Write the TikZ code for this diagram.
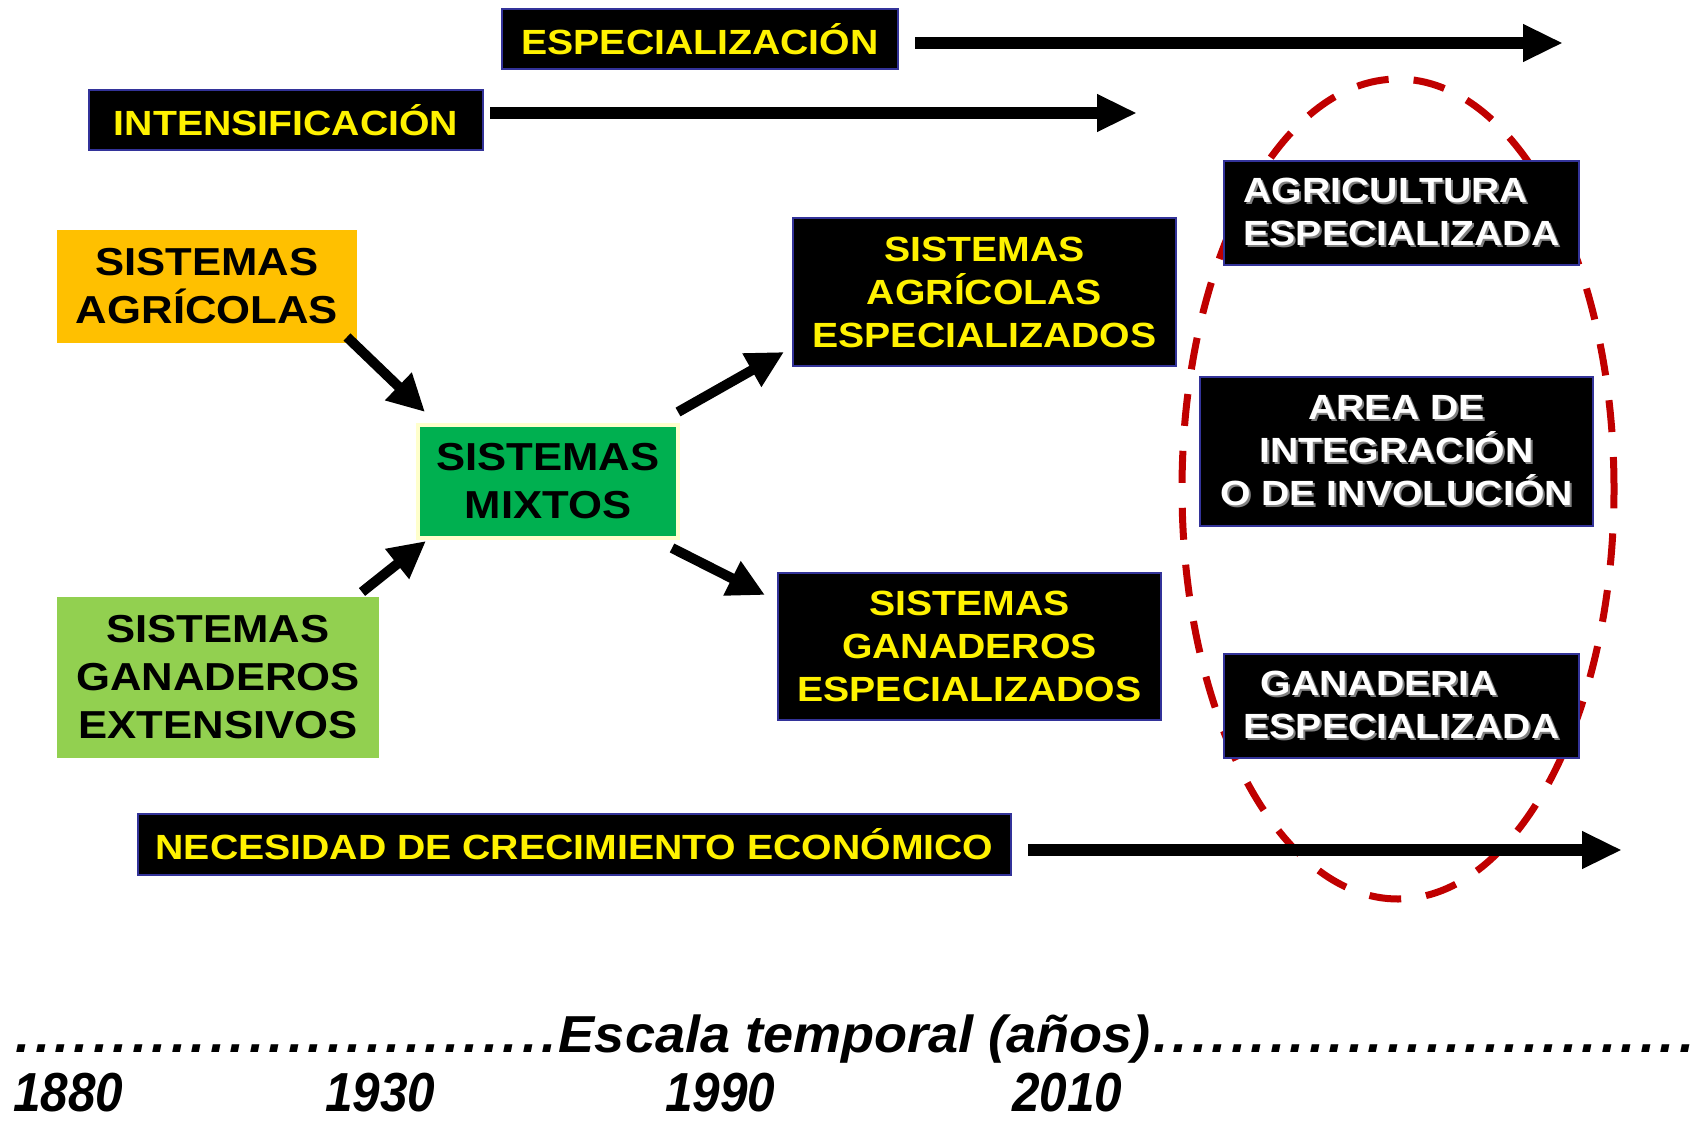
\documentclass[tikz,border=0pt]{standalone}
\usepackage{fontspec}
\usetikzlibrary{positioning,arrows.meta}
\newfontfamily\boxfont{Liberation Sans}[FakeStretch=1.12]
\newfontfamily\timefont{Liberation Sans}[FakeStretch=1.04]
\newfontfamily\yearfont{Liberation Sans}[FakeStretch=0.9]
\definecolor{boxOrange}{HTML}{FFC000}
\definecolor{boxGreen}{HTML}{00B050}
\definecolor{boxLime}{HTML}{92D050}
\definecolor{paleYellow}{HTML}{FFFFCC}
\definecolor{frameBlue}{HTML}{333399}
\definecolor{dashRed}{HTML}{C00000}
\colorlet{labelYellow}{yellow}
\colorlet{shadowGray}{gray}
\newcommand{\embossed}[1]{\leavevmode\rlap{\kern2pt\raisebox{-2pt}{\color{shadowGray}#1}}#1}
\newcommand{\dotrun}{\xleaders\hbox to 19.2pt{\hss.\hss}\hfill}
\tikzstyle{plainBox}=[inner sep=0pt,outer sep=0pt,align=center,font=\boxfont\bfseries\fontsize{39}{48}\selectfont]
\tikzstyle{darkBox}=[plainBox,fill=black,draw=frameBlue,line width=2pt,text=labelYellow,font=\boxfont\bfseries\fontsize{35}{43}\selectfont]
\tikzstyle{whiteBox}=[darkBox,text=white]
\tikzstyle{bigArrow}=[line width=12pt,-{Triangle[length=40pt,width=35pt]}]
\tikzstyle{shortArrow}=[line width=10pt,-{Triangle[length=37pt,width=36pt]}]
\tikzstyle{yearLabel}=[inner sep=0pt,anchor=base west,font=\yearfont\bfseries\itshape\fontsize{55}{60}\selectfont]

\begin{document}
\begin{tikzpicture}[x=1pt,y=-1pt]
\useasboundingbox (0,0) rectangle (1696,1121);
        \draw[dashRed,line width=7pt,dash pattern=on 32pt off 25pt]
        (1398,489) ellipse [x radius=216pt,y radius=410pt];

        \node[darkBox,minimum width=396pt,minimum height=60pt] 
        (especializacion) at (700,39) 
        {ESPECIALIZACIÓN};
        \node[darkBox,minimum width=394pt,minimum height=60pt] 
        (intensificacion) at (286,120) 
        {INTENSIFICACIÓN};
        \node[plainBox,fill=boxOrange,minimum width=300pt,minimum height=113pt] 
        (agricolas) at (207,286.5) 
        {SISTEMAS\\AGRÍCOLAS};
        \node[plainBox,fill=boxGreen,draw=paleYellow,line width=4pt,minimum width=260pt,minimum height=113pt] 
        (mixtos) at (548,481.5) 
        {SISTEMAS\\MIXTOS};
        \node[plainBox,fill=boxLime,minimum width=322pt,minimum height=161pt] 
        (extensivos) at (218,677.5) 
        {SISTEMAS\\GANADEROS\\EXTENSIVOS};
        \node[darkBox,minimum width=383pt,minimum height=148pt] 
        (agricEsp) at (984.5,292) 
        {SISTEMAS\\AGRÍCOLAS\\ESPECIALIZADOS};
        \node[darkBox,minimum width=383pt,minimum height=147pt] 
        (ganadEsp) at (969.5,646.5) 
        {SISTEMAS\\GANADEROS\\ESPECIALIZADOS};
        \node[whiteBox,align=left,minimum width=355pt,minimum height=104pt] 
        (agricultura) at (1401.5,213) 
        {\embossed{AGRICULTURA}\\\embossed{ESPECIALIZADA}};
        \node[whiteBox,minimum width=393pt,minimum height=149pt] 
        (area) at (1396.5,451.5) 
        {\embossed{AREA DE}\\\embossed{INTEGRACIÓN}\\\embossed{O DE INVOLUCIÓN}};
        \node[whiteBox,align=left,minimum width=355pt,minimum height=104pt] 
        (ganaderia) at (1401.5,706) 
        {\hspace*{17pt}\embossed{GANADERIA}\\\embossed{ESPECIALIZADA}};
        \node[darkBox,minimum width=873pt,minimum height=61pt] 
        (necesidad) at (574.5,844.5) 
        {NECESIDAD DE CRECIMIENTO ECONÓMICO};

        \coordinate (espEnd) at (1563,43);
        \coordinate (intEnd) at (1137,113);
        \coordinate (necEnd) at (1622,850);
        \draw[bigArrow] ([xshift=17pt,yshift=-4pt]especializacion.east) -- (espEnd);
        \draw[bigArrow] ([xshift=7pt,yshift=7pt]intensificacion.east) -- (intEnd);
        \draw[bigArrow] ([xshift=17pt,yshift=-5.5pt]necesidad.east) -- (necEnd);

        \draw[shortArrow] ([xshift=-10pt,yshift=6pt]agricolas.south east) -- ([xshift=7pt,yshift=13pt]mixtos.north west);
        \draw[shortArrow] ([xshift=-17pt,yshift=5pt]extensivos.north east) -- ([xshift=8pt,yshift=-3pt]mixtos.south west);
        \draw[shortArrow] ([yshift=13pt]mixtos.north east) -- ([xshift=-9pt,yshift=14pt]agricEsp.south west);
        \draw[shortArrow] ([xshift=-6pt,yshift=-10pt]mixtos.south east) -- ([xshift=-13pt,yshift=-22pt]ganadEsp.north west);

        \node[inner sep=0pt,anchor=base west,font=\timefont\bfseries\itshape\fontsize{52}{60}\selectfont] 
        (timeScale) at (13,1052) 
        {\hbox to 1683pt{\dotrun Escala temporal (años)\dotrun}};
        \foreach \yr/\xpos in {1880/13,1930/325,1990/665,2010/1012} {
                \node[yearLabel] (year\yr) at (\xpos,1111) {\yr};
        }
\end{tikzpicture}
\end{document}
